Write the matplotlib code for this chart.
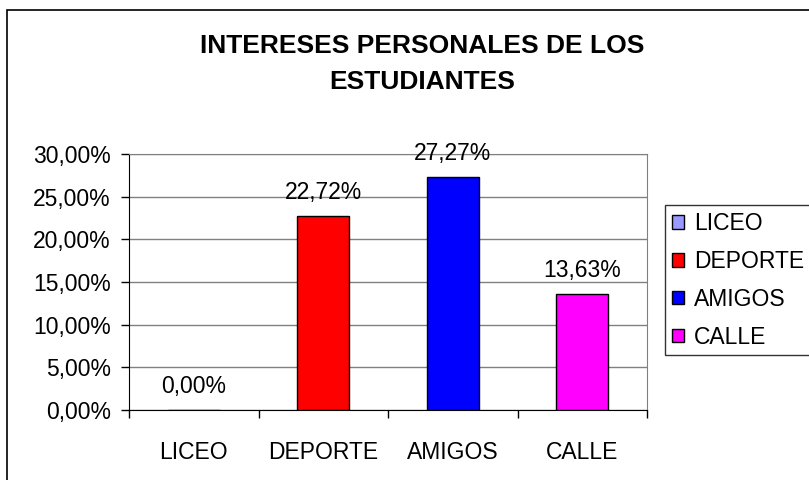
#!/usr/bin/env python3
# -*- coding: utf-8 -*-

import matplotlib
matplotlib.use("Agg")
import matplotlib.pyplot as plt
from matplotlib.patches import Rectangle
from matplotlib.ticker import FuncFormatter, FixedLocator

categories = ["LICEO", "DEPORTE", "AMIGOS", "CALLE"]
values = [0.00, 22.72, 27.27, 13.63]
colors = ["#9999FF", "#FF0000", "#0000FF", "#FF00FF"]
yticks = [0, 5, 10, 15, 20, 25, 30]

plt.rcParams["font.family"] = ["Liberation Sans", "DejaVu Sans"]
FS = 16.5

def pct(v):
    return ("%.2f%%" % v).replace(".", ",")

fig = plt.figure(figsize=(8.09, 4.8), dpi=100)
ax = fig.add_axes([129/809, 1 - 410/480, 518/809, 256/480])

x = list(range(len(categories)))
bars = ax.bar(x, values, width=0.4, color=colors, edgecolor="black", linewidth=1, zorder=3)

#value labels above each bar
for xi, v in zip(x, values):
    ax.annotate(pct(v), (xi, v), xytext=(0, 17), textcoords="offset points",
                ha="center", va="center", fontsize=FS, zorder=4)

ax.set_xlim(-0.5, len(categories) - 0.5)
ax.set_ylim(0, 30)
ax.set_yticks(yticks)
ax.yaxis.set_major_formatter(FuncFormatter(lambda v, p: pct(v)))
ax.yaxis.grid(True, color="#808080", linewidth=1)
ax.set_axisbelow(True)

ax.set_xticks(x)
ax.set_xticklabels(categories)
ax.xaxis.set_minor_locator(FixedLocator([i - 0.5 for i in range(len(categories) + 1)]))
ax.tick_params(axis="x", which="major", length=0, pad=22, labelsize=FS)
ax.tick_params(axis="x", which="minor", length=6, width=1, direction="out", color="black")
ax.tick_params(axis="y", length=6, width=1, direction="out", labelsize=FS, pad=7)

for s in ["top", "right"]:
    ax.spines[s].set_color("#808080")
for s in ["left", "bottom"]:
    ax.spines[s].set_color("black")

fig.text(422/809, 1 - 46/480, "INTERESES PERSONALES DE LOS", ha="center", va="center",
         fontsize=19, fontweight="bold")
fig.text(422/809, 1 - 82/480, "ESTUDIANTES", ha="center", va="center",
         fontsize=19, fontweight="bold")

leg = fig.legend(bars, categories, loc="upper left", bbox_to_anchor=(665/809, 1 - 205/480),
                 frameon=True, fancybox=False, fontsize=FS, handlelength=0.55, handleheight=0.55,
                 handletextpad=0.4, labelspacing=0.65, borderpad=0.3, borderaxespad=0)
leg.get_frame().set_edgecolor("black")
leg.get_frame().set_linewidth(1)

#outer chart border, running off the right and bottom edges like the original
fig.patches.append(Rectangle((7/809, -0.1), 1.2, 1.1 - 10/480, transform=fig.transFigure,
                             fill=False, edgecolor="black", linewidth=1.2))

plt.savefig("out.png", dpi=100)
plt.close()
